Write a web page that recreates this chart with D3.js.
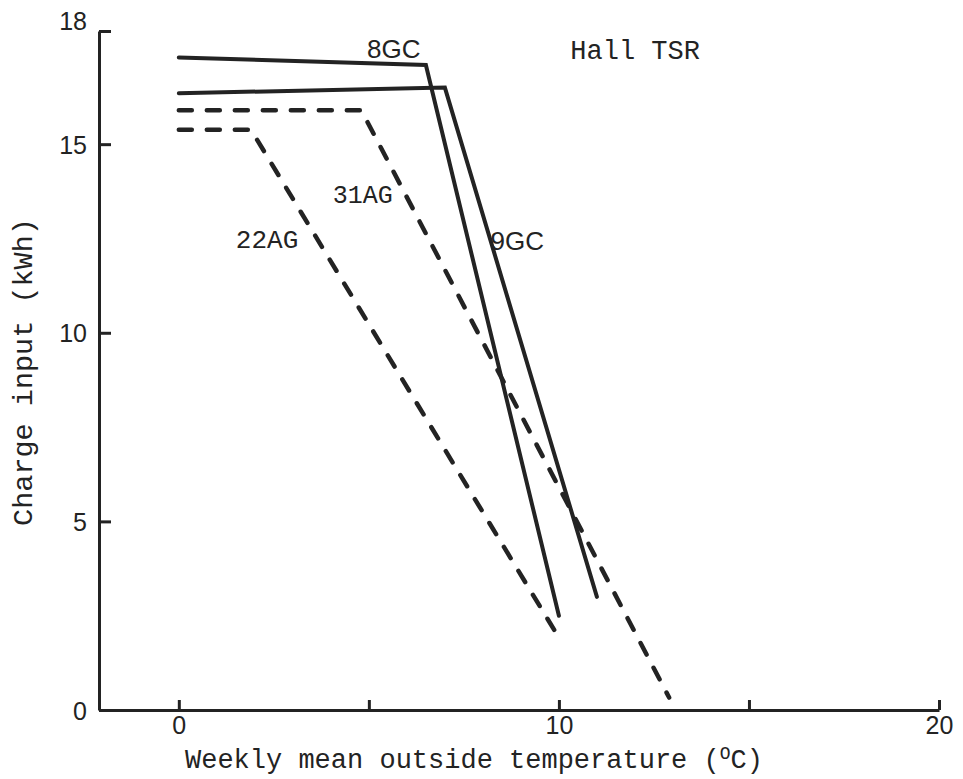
<!DOCTYPE html>
<html>
<head>
<meta charset="utf-8">
<script src="https://cdn.jsdelivr.net/npm/d3@7"></script>
<style>
  html, body { margin: 0; padding: 0; background: #fff; }
  svg { display: block; }
</style>
</head>
<body>
<svg id="chart" width="963" height="779"></svg>
<script>
// ---- data ----
const temp8GC  = [0, 6.5, 10];
const kwh8GC   = [17.3, 17.1, 2.5];
const temp9GC  = [0, 7.0, 11.0];
const kwh9GC   = [16.35, 16.5, 3.0];
const temp31AG = [0, 4.8, 12.9];
const kwh31AG  = [15.9, 15.9, 0.33];
const temp22AG = [0, 1.9, 9.95];
const kwh22AG  = [15.38, 15.38, 2.0];

const xTickValues = [0, 5, 10, 15, 20];
const xTickLabels = ["0", "", "10", "", "20"];
const yTickValues = [0, 5, 10, 15, 18];
const yTickLabels = ["0", "5", "10", "15", "18"];

const xTitle = "Weekly mean outside temperature (";
const yTitle = "Charge input (kWh)";
const chartTitle = "Hall TSR";

const ink = "#232323";
const mono = "'Liberation Mono', 'DejaVu Sans Mono', monospace";
const sans = "'Liberation Sans', Arial, sans-serif";

const svg = d3.select("#chart");
svg.append("rect").attr("width", 963).attr("height", 779).attr("fill", "#fff");

const x = d3.scaleLinear().domain([-2.1, 20]).range([99, 939]);
const y = d3.scaleLinear().domain([0, 18]).range([710, 31]);

// axes
const xAxis = d3.axisBottom(x)
  .tickValues(xTickValues)
  .tickFormat((d, i) => xTickLabels[i])
  .tickSizeInner(-10).tickSizeOuter(0).tickPadding(6);
const yAxis = d3.axisLeft(y)
  .tickValues(yTickValues)
  .tickFormat((d, i) => yTickLabels[i])
  .tickSizeInner(-12).tickSizeOuter(0).tickPadding(12);

const gx = svg.append("g").attr("transform", `translate(0,${y(0)})`).call(xAxis);
const gy = svg.append("g").attr("transform", `translate(${x(-2.1)},0)`).call(yAxis);

[gx, gy].forEach(g => {
  g.select(".domain").attr("stroke", ink).attr("stroke-width", 3);
  g.selectAll(".tick line").attr("stroke", ink).attr("stroke-width", 3);
  g.selectAll(".tick text")
    .attr("fill", ink)
    .attr("font-family", sans)
    .attr("font-size", 25);
});
gy.selectAll(".tick text").attr("dy", "0.36em");
gy.selectAll(".tick").filter(d => d === 18).select("text").attr("dy", "-0.05em");

// lines
const line = d3.line().x(d => x(d[0])).y(d => y(d[1]));
const series = [
  { xs: temp8GC,  ys: kwh8GC,  dashed: false },
  { xs: temp9GC,  ys: kwh9GC,  dashed: false },
  { xs: temp31AG, ys: kwh31AG, dashed: true },
  { xs: temp22AG, ys: kwh22AG, dashed: true }
];
series.forEach(s => {
  const pts = s.xs.map((v, i) => [v, s.ys[i]]);
  svg.append("path")
    .attr("d", line(pts))
    .attr("fill", "none")
    .attr("stroke", ink)
    .attr("stroke-width", s.dashed ? 4.5 : 4)
    .attr("stroke-linejoin", "miter")
    .attr("stroke-linecap", "round")
    .attr("stroke-dasharray", s.dashed ? "13,15" : null);
});

// series labels
const labels = [
  { text: "8GC",  tx: 4.95, ty: 17.28, font: sans, size: 26 },
  { text: "9GC",  tx: 8.2,  ty: 12.2,  font: sans, size: 26 },
  { text: "31AG", tx: 4.05, ty: 13.45, font: mono, size: 25 },
  { text: "22AG", tx: 1.5,  ty: 12.25, font: mono, size: 26 },
  { text: chartTitle, tx: 10.3, ty: 17.25, font: mono, size: 27 }
];
labels.forEach(l => {
  svg.append("text")
    .attr("x", x(l.tx)).attr("y", y(l.ty))
    .attr("font-family", l.font).attr("font-size", l.size)
    .attr("fill", ink)
    .text(l.text);
});

// axis titles
const xt = svg.append("text")
  .attr("x", 185).attr("y", 768)
  .attr("font-family", mono).attr("font-size", 27)
  .attr("fill", ink);
xt.append("tspan").text(xTitle);
xt.append("tspan").attr("font-size", 18).attr("dy", -9).text("O");
xt.append("tspan").attr("dy", 9).text("C)");

svg.append("text")
  .attr("transform", "translate(32,372) rotate(-90)")
  .attr("text-anchor", "middle")
  .attr("font-family", mono).attr("font-size", 28.5)
  .attr("fill", ink)
  .text(yTitle);
</script>
</body>
</html>
